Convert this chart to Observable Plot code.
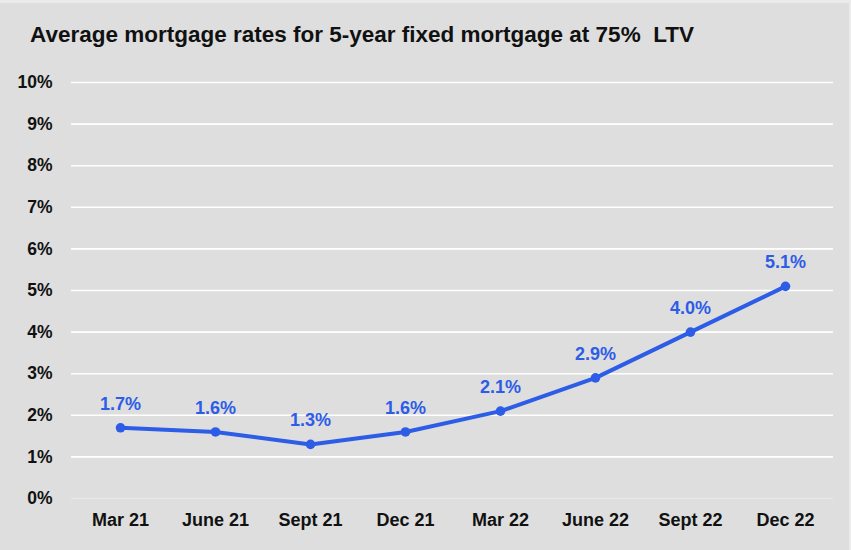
<!DOCTYPE html>
<html><head><meta charset="utf-8">
<script src="https://cdn.jsdelivr.net/npm/d3@7"></script>
<script src="https://cdn.jsdelivr.net/npm/@observablehq/plot@0.6"></script>
<style>
body{margin:0;background:#fff;}
#wrap{width:851px;height:550px;background:#dedede;font-family:"Liberation Sans",Arial,sans-serif;box-sizing:border-box;border-top:3px solid #ebebeb;border-right:2px solid #ebebeb;}
#title{height:59px;box-sizing:border-box;padding:19px 0 0 30px;font-size:22.5px;font-weight:bold;color:#111;line-height:26px;white-space:pre;}
</style></head>
<body><div id="wrap"><div id="title">Average mortgage rates for 5-year fixed mortgage at 75%  LTV</div><div id="chart"></div></div>
<script>
const quarters = ["Mar 21","June 21","Sept 21","Dec 21","Mar 22","June 22","Sept 22","Dec 22"];
const rates = [1.7,1.6,1.3,1.6,2.1,2.9,4.0,5.1];
const yTicks = [0,1,2,3,4,5,6,7,8,9,10];
const data = quarters.map((q,i)=>({q, r: rates[i]}));
const blue = "#2d5ce7";
const chart = Plot.plot({
  width: 849, height: 488,
  marginTop: 20, marginBottom: 52, marginLeft: 71, marginRight: 16,
  style: {background: "transparent", fontFamily: '"Liberation Sans",Arial,sans-serif', overflow: "visible"},
  x: {type: "point", domain: quarters, padding: 0.5},
  y: {domain: [0, 10]},
  marks: [
    Plot.ruleY(yTicks.filter(d=>d>0), {stroke: "#ffffff", strokeWidth: 1.6}),
    Plot.ruleY([0], {stroke: "#e8e8e8", strokeWidth: 1.6}),
    Plot.axisY(yTicks, {tickSize: 0, tickPadding: 19, tickFormat: d => d + "%", fontSize: 17.5, fontWeight: "bold", fill: "#111", label: null}),
    Plot.axisX({tickSize: 0, tickPadding: 15, fontSize: 18, fontWeight: "bold", fill: "#111", label: null}),
    Plot.line(data, {x: "q", y: "r", stroke: blue, strokeWidth: 4}),
    Plot.dot(data, {x: "q", y: "r", fill: blue, r: 4.8}),
    Plot.text(data, {x: "q", y: "r", text: d => d.r.toFixed(1) + "%", dy: -24, fill: blue, fontSize: 18, fontWeight: "bold"})
  ]
});
document.getElementById("chart").appendChild(chart);
</script></body></html>
